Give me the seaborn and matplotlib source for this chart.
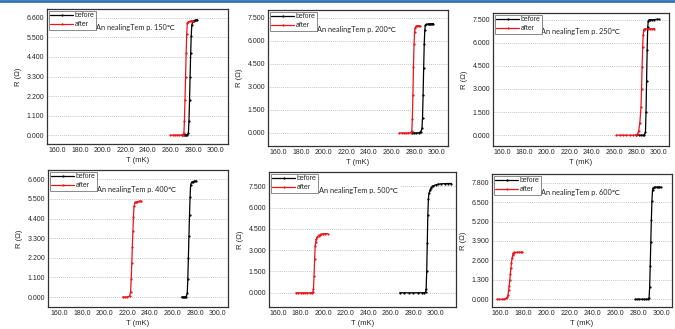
import numpy as np
import pandas as pd
import matplotlib
matplotlib.use('Agg')
import matplotlib.pyplot as plt
from matplotlib.lines import Line2D
from matplotlib.ticker import MultipleLocator, FormatStrFormatter
import seaborn as sns

# ---- data ----------------------------------------------------------------
# 150 C
t_before_150 = [270, 272, 273, 274, 275, 276, 276.5, 277, 277.5, 278, 278.5, 279, 280, 281, 282, 283, 284]
r_before_150 = [0, 0, 0, 0, 0.02, 0.1, 0.8, 2.0, 3.3, 4.6, 5.6, 6.2, 6.4, 6.45, 6.47, 6.48, 6.5]
t_after_150 = [260, 262, 264, 266, 268, 270, 271, 272, 272.5, 273, 273.5, 274, 274.5, 275, 276, 277, 278, 279, 280]
r_after_150 = [0, 0, 0, 0, 0, 0, 0.02, 0.1, 0.8, 2.0, 3.3, 4.6, 5.7, 6.3, 6.38, 6.4, 6.41, 6.42, 6.42]

# 200 C
t_before_200 = [278, 280, 282, 284, 285, 286, 287, 287.5, 288, 288.5, 289, 289.5, 290, 291, 292, 293, 294, 295, 296, 297]
r_before_200 = [0, 0, 0, 0.01, 0.03, 0.08, 0.3, 1.0, 2.5, 4.2, 5.8, 6.7, 7.0, 7.06, 7.08, 7.09, 7.1, 7.1, 7.1, 7.12]
t_after_200 = [267, 269, 271, 273, 275, 277, 278, 278.5, 279, 279.5, 280, 280.5, 281, 282, 283, 284, 285]
r_after_200 = [0, 0, 0, 0, 0, 0.01, 0.1, 0.9, 2.5, 4.3, 5.8, 6.6, 6.85, 6.95, 6.97, 6.98, 6.98]

# 250 C
t_before_250 = [280, 282, 284, 286, 287, 288, 288.5, 289, 289.5, 290, 290.5, 291, 292, 294, 296, 298, 300]
r_before_250 = [0, 0, 0, 0, 0.02, 0.2, 1.5, 3.5, 5.5, 7.0, 7.4, 7.48, 7.5, 7.5, 7.5, 7.52, 7.52]
t_after_250 = [262, 265, 268, 271, 274, 277, 280, 281, 282, 283, 284, 284.5, 285, 285.5, 286, 286.5, 287, 288, 290, 292, 294, 296]
r_after_250 = [0, 0, 0, 0, 0, 0, 0.02, 0.1, 0.3, 0.8, 1.8, 3.0, 4.4, 5.7, 6.5, 6.8, 6.88, 6.9, 6.9, 6.91, 6.91, 6.92]

# 400 C
t_before_400 = [268, 269, 270, 271, 272, 273, 273.5, 274, 274.5, 275, 275.5, 276, 277, 278, 279, 280, 281]
r_before_400 = [0, 0, 0, 0, 0.02, 0.2, 1.0, 2.2, 3.4, 4.6, 5.6, 6.3, 6.45, 6.47, 6.48, 6.5, 6.5]
t_after_400 = [216, 218, 220, 222, 223, 223.5, 224, 224.5, 225, 225.5, 226, 227, 228, 229, 230, 231, 232]
r_after_400 = [0, 0, 0, 0.05, 0.3, 1.0, 1.9, 2.8, 3.7, 4.5, 5.1, 5.3, 5.33, 5.35, 5.36, 5.36, 5.37]

# 500 C
t_before_500 = [268, 272, 276, 280, 284, 288, 290, 291, 291.5, 292, 292.5, 293, 293.5, 294, 295, 296, 297, 298, 300, 302, 305, 308, 311, 314]
r_before_500 = [0, 0, 0, 0, 0, 0, 0.01, 0.05, 0.3, 1.5, 3.5, 5.5, 6.6, 7.0, 7.25, 7.4, 7.48, 7.53, 7.6, 7.64, 7.67, 7.68, 7.69, 7.69]
t_after_500 = [176, 178, 180, 182, 184, 186, 188, 190, 191, 191.5, 192, 192.5, 193, 193.5, 194, 195, 196, 197, 198, 200, 202, 204]
r_after_500 = [0, 0, 0, 0, 0, 0, 0, 0.01, 0.05, 0.3, 1.2, 2.4, 3.3, 3.6, 3.8, 3.95, 4.03, 4.08, 4.12, 4.15, 4.16, 4.16]

# 600 C
t_before_600 = [277.5, 279, 281, 283, 285, 287, 288.5, 289.5, 290, 290.5, 291, 291.5, 292, 292.5, 293, 294, 295, 296, 297, 298, 299.5]
r_before_600 = [0, 0, 0, 0, 0, 0, 0.01, 0.1, 0.8, 2.2, 3.8, 5.3, 6.6, 7.3, 7.45, 7.48, 7.5, 7.5, 7.5, 7.51, 7.51]
t_after_600 = [157, 159, 161, 163, 165, 166, 166.5, 167, 167.5, 168, 168.5, 169, 169.5, 170, 170.5, 171, 171.5, 172, 174, 176, 178, 179]
r_after_600 = [0, 0, 0, 0.01, 0.05, 0.15, 0.3, 0.6, 0.9, 1.3, 1.7, 2.1, 2.45, 2.75, 2.95, 3.08, 3.12, 3.13, 3.14, 3.15, 3.15, 3.15]

anneal_temps = [150, 200, 250, 400, 500, 600]
y_steps = [1.1, 1.5, 1.5, 1.1, 1.5, 1.3]
y_tops = [6.6, 7.5, 7.5, 6.6, 7.5, 7.8]
y_lims = [(-0.5, 7.1), (-0.85, 8.0), (-0.7, 7.93), (-0.56, 7.12), (-1.0, 8.5), (-0.52, 8.38)]
x_lims = [(151, 311), (151, 310), (152, 309), (150, 309), (152, 318), (152.5, 309.5)]

curves = [
    (t_before_150, r_before_150, t_after_150, r_after_150),
    (t_before_200, r_before_200, t_after_200, r_after_200),
    (t_before_250, r_before_250, t_after_250, r_after_250),
    (t_before_400, r_before_400, t_after_400, r_after_400),
    (t_before_500, r_before_500, t_after_500, r_after_500),
    (t_before_600, r_before_600, t_after_600, r_after_600),
]

# axes boxes in pixels: left, right, top, bottom
boxes = [(47, 228, 9, 144), (268, 448, 10, 146), (493, 669, 13, 146),
         (48, 228, 170, 307), (269, 456, 172, 307), (492, 672, 174, 307)]

# ---- plotting ------------------------------------------------------------
sns.set_style('white')
plt.rcParams['font.family'] = ['Liberation Sans', 'DejaVu Sans']

W, H = 675, 329
fig = plt.figure(figsize=(W / 100, H / 100), dpi=100)

for i, (tb, rb, ta, ra) in enumerate(curves):
    l, r, t, b = boxes[i]
    ax = fig.add_axes([l / W, 1 - b / H, (r - l) / W, (b - t) / H])

    df = pd.concat([
        pd.DataFrame({'T': tb, 'R': rb, 'run': 'before'}),
        pd.DataFrame({'T': ta, 'R': ra, 'run': 'after'}),
    ], ignore_index=True)
    sns.lineplot(data=df, x='T', y='R', hue='run', palette={'before': 'black', 'after': '#e8151b'},
                 estimator=None, sort=False, marker='o', markersize=1.6, markeredgewidth=0,
                 linewidth=0.9, ax=ax)

    ax.set_xlim(*x_lims[i])
    ax.set_ylim(*y_lims[i])
    ax.xaxis.set_major_locator(MultipleLocator(20))
    ax.xaxis.set_minor_locator(MultipleLocator(10))
    ax.set_xticks(np.arange(160, 301, 20))
    ax.xaxis.set_major_formatter(FormatStrFormatter('%.1f'))
    ax.set_yticks(np.round(np.arange(0, y_tops[i] + 0.01, y_steps[i]), 3))
    ax.yaxis.set_minor_locator(MultipleLocator(y_steps[i] / 2))
    ax.yaxis.set_major_formatter(FormatStrFormatter('%.3f'))
    ax.tick_params(which='both', direction='in', labelsize=5, pad=2, width=0.6, color='#333333')
    ax.tick_params(which='major', length=2.5)
    ax.tick_params(which='minor', length=1.3)
    ax.grid(axis='y', which='major', linestyle=(0, (1, 1.5)), color='#b0b0b0', linewidth=0.6)
    ax.set_axisbelow(True)
    for s in ax.spines.values():
        s.set_color('#333333')
        s.set_linewidth(0.9)

    ax.set_xlabel('T (mK)', fontsize=5.5, labelpad=2)
    ax.set_ylabel('R (Ω)', fontsize=5.5, labelpad=3)

    leg = ax.legend(loc='upper left', fontsize=5, frameon=True, fancybox=False,
                    borderpad=0.2, labelspacing=0.25, handlelength=3.2, handletextpad=0.3,
                    borderaxespad=0.3, title=None)
    leg.get_frame().set_edgecolor('#555555')
    leg.get_frame().set_linewidth(0.6)

    ax.text(0.27, 0.86, f'An nealingTem p. {anneal_temps[i]}℃', transform=ax.transAxes,
            fontsize=5.3, va='center', ha='left', family=['Lato', 'DejaVu Sans'],
            bbox=dict(facecolor='white', edgecolor='none', pad=1.0))

fig.add_artist(Line2D([0, 1], [0.997, 0.997], transform=fig.transFigure, color='#2f75b5', linewidth=2))

fig.savefig('out.png', dpi=100, facecolor='white')
